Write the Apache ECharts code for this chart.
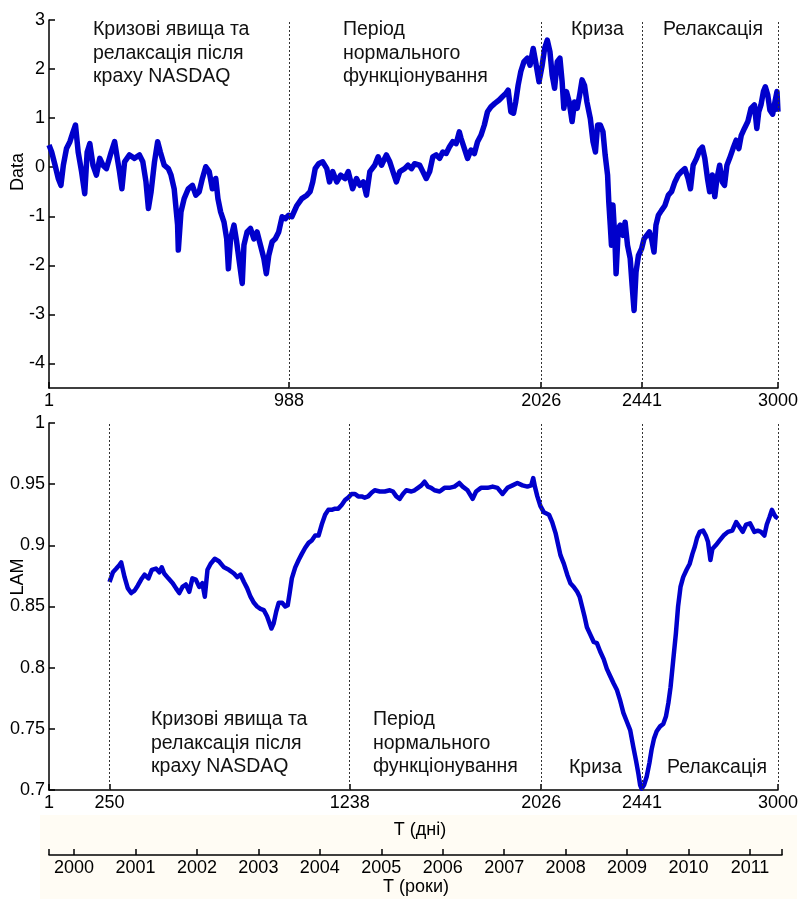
<!DOCTYPE html>
<html>
<head>
<meta charset="utf-8">
<script src="https://cdn.jsdelivr.net/npm/echarts@6/dist/echarts.min.js"></script>
<style>
html,body{margin:0;padding:0;background:#fff;}
#chart{width:801px;height:899px;}
</style>
</head>
<body>
<div id="chart"></div>
<script>
// ---- Data ----
const topDays = [1,12,26,39,50,60,73,87,100,110,121,135,148,158,169,182,196,210,223,237,257,271,282,291,301,312,332,353,373,387,400,410,421,435,448,459,475,492,503,516,530,533,544,557,574,591,605,619,632,646,660,673,687,696,707,721,732,739,748,762,773,782,796,803,816,830,844,857,871,885,895,905,919,932,946,960,973,987,1000,1021,1041,1062,1075,1086,1096,1110,1127,1144,1155,1168,1185,1201,1219,1232,1250,1266,1280,1294,1307,1321,1341,1355,1369,1389,1403,1416,1430,1444,1464,
1478,1492,1505,1526,1539,1553,1567,1580,1594,1608,1621,1635,1648,1662,1676,1689,1696,1710,1723,1737,1751,1764,1778,1792,1805,1819,1835,1853,1867,1880,1890,1901,1912,1921,1931,1942,1955,1969,1980,1993,2003,2017,2030,2040,2051,2062,2071,2081,2092,2103,2112,2119,2130,2141,2153,2163,2174,2184,2194,2204,2214,2228,2239,2249,2258,2269,2280,2289,2299,2304,2310,2315,2321,2329,2334,2343,2351,2362,2371,2381,2392,2400,2408,2416,2426,2439,2449,2460,2471,2480,2490,2498,2508,2521,2535,2549,2562,2576,2590,2603,2617,2630,2640,2651,2665,2678,2689,2699,2710,2719,2730,2740,2749,2760,2771,2780,2790,2801,2815,2828,2839,2849,2862,2876,2889,2903,2913,2921,2930,2940,2948,2958,2967,2978,2989,2996,3000];
const topValues = [0.45,0.31,0.04,-0.23,-0.37,0.04,0.38,0.52,0.72,0.86,0.31,-0.09,-0.54,0.31,0.48,0.04,-0.16,0.18,0.04,-0.03,0.31,0.52,0.18,-0.09,-0.44,0.11,0.25,0.18,0.25,0.11,-0.30,-0.84,-0.50,0.11,0.52,0.31,0.04,-0.03,-0.16,-0.44,-1.18,-1.69,-0.91,-0.64,-0.44,-0.37,-0.57,-0.50,-0.23,0.01,-0.09,-0.44,-0.23,-0.64,-0.91,-1.12,-1.46,-2.07,-1.46,-1.18,-1.52,-1.86,-2.37,-1.59,-1.32,-1.25,-1.46,-1.32,-1.59,-1.86,-2.17,-1.80,-1.52,-1.46,-1.32,-1.01,-1.05,-0.98,-1.01,-0.78,-0.64,-0.57,-0.50,-0.30,-0.03,0.07,0.11,-0.03,-0.30,-0.09,-0.30,-0.16,-0.23,-0.09,-0.44,-0.23,-0.37,-0.30,-0.57,-0.09,0.04,0.21,0.04,0.25,0.11,-0.09,-0.30,-0.09,-0.03,
0.04,-0.03,0.07,0.04,-0.09,-0.23,-0.09,0.21,0.25,0.18,0.31,0.28,0.41,0.52,0.48,0.72,0.59,0.38,0.18,0.35,0.28,0.52,0.65,0.86,1.13,1.23,1.30,1.37,1.44,1.50,1.57,1.13,1.10,1.33,1.67,1.95,2.15,2.22,2.08,2.42,2.15,1.74,2.08,2.42,2.59,2.35,1.88,1.61,2.15,2.22,1.74,1.20,1.54,1.33,0.93,1.33,1.20,1.47,1.78,1.67,1.33,0.99,0.52,0.31,0.86,0.86,0.72,0.25,-0.16,-0.71,-1.18,-1.59,-0.77,-1.46,-2.17,-1.25,-1.18,-1.39,-1.12,-1.59,-1.86,-2.41,-2.92,-2.14,-1.80,-1.66,-1.46,-1.39,-1.32,-1.46,-1.73,-1.18,-0.98,-0.88,-0.78,-0.57,-0.50,-0.30,-0.16,-0.09,-0.03,-0.23,-0.44,0.04,0.18,0.35,0.41,0.18,-0.23,-0.50,-0.16,-0.60,-0.23,0.04,-0.30,-0.37,0.04,0.18,0.38,0.55,0.38,0.65,0.79,0.93,1.20,1.27,0.79,1.13,1.27,1.54,1.64,1.47,1.16,1.08,1.37,1.54,1.13];

const lamDays = [250,264,278,291,298,312,325,339,353,366,380,394,410,424,441,455,465,475,492,510,523,537,550,564,578,591,605,619,632,642,653,666,683,700,721,741,762,775,789,803,816,830,844,857,871,885,898,909,916,925,936,946,960,973,983,991,1000,1014,1028,1041,1055,1069,1082,1096,1110,1123,1137,1150,1164,1178,1191,1205,1219,1232,1246,1260,1273,1287,1300,1314,1328,1341,1362,1382,1403,1416,1430,1444,1457,1471,
1492,1505,1519,1533,1546,1560,1573,1587,1608,1628,1648,1669,1689,1703,1723,1744,1758,1778,1805,1826,1846,1867,1887,1908,1928,1949,1969,1985,1993,2000,2010,2023,2037,2058,2071,2085,2094,2105,2119,2133,2146,2160,2174,2184,2194,2204,2214,2228,2242,2255,2269,2283,2296,2310,2324,2337,2351,2364,2378,2392,2405,2416,2426,2433,2439,2449,2460,2471,2480,2490,2501,2515,2528,2539,2549,2558,2569,2580,2589,2599,2610,2624,2637,2648,2658,2667,2678,2692,2703,2712,2722,2730,2744,2760,2776,2794,2812,2828,2842,2855,2869,2885,2903,2917,2930,2944,2954,2965,2975,2985,2992,3000];
const lamValues = [0.870,0.878,0.881,0.884,0.886,0.874,0.865,0.861,0.863,0.867,0.872,0.876,0.873,0.880,0.881,0.878,0.882,0.877,0.873,0.869,0.865,0.861,0.866,0.868,0.862,0.873,0.872,0.866,0.869,0.858,0.880,0.885,0.889,0.887,0.882,0.880,0.877,0.874,0.876,0.870,0.865,0.858,0.853,0.850,0.848,0.847,0.842,0.836,0.832,0.836,0.846,0.853,0.853,0.850,0.851,0.861,0.873,0.882,0.888,0.893,0.898,0.902,0.904,0.908,0.908,0.917,0.925,0.929,0.929,0.930,0.930,0.933,0.937,0.939,0.942,0.942,0.940,0.940,0.939,0.940,0.943,0.945,0.944,0.944,0.945,0.944,0.940,0.938,0.942,0.945,
0.944,0.945,0.947,0.949,0.952,0.948,0.947,0.945,0.944,0.947,0.947,0.948,0.951,0.948,0.945,0.938,0.944,0.947,0.947,0.948,0.947,0.942,0.947,0.949,0.951,0.949,0.948,0.949,0.955,0.948,0.940,0.932,0.927,0.925,0.919,0.910,0.902,0.892,0.885,0.876,0.869,0.866,0.862,0.858,0.850,0.842,0.833,0.827,0.821,0.820,0.813,0.807,0.799,0.793,0.787,0.782,0.773,0.763,0.756,0.749,0.735,0.724,0.713,0.704,0.701,0.704,0.711,0.722,0.733,0.742,0.748,0.752,0.754,0.760,0.771,0.784,0.806,0.828,0.850,0.866,0.874,0.880,0.885,0.893,0.899,0.906,0.911,0.912,0.908,0.903,0.888,0.897,0.900,0.904,0.908,0.911,0.912,0.919,0.915,0.911,0.917,0.918,0.911,0.912,0.911,0.908,0.917,0.923,0.929,0.925,0.923,0.922];

const topXTicks = [1,988,2026,2441,3000];
const lamXTicks = [1,250,1238,2026,2441,3000];
const topYTicks = [-4,-3,-2,-1,0,1,2,3];
const lamYTicks = [0.7,0.75,0.8,0.85,0.9,0.95,1];
const topMarks = [988,2026,2441,3000];
const lamMarks = [250,1238,2026,2441,3000];
const years = [2000,2001,2002,2003,2004,2005,2006,2007,2008,2009,2010,2011];
const yearStart = 1999.593, yearEnd = 2011.521;

const textA = 'Кризові явища та\nрелаксація після\nкраху NASDAQ';
const textB = 'Період\nнормального\nфункціонування';
const textC = 'Криза';
const textD = 'Релаксація';

// ---- Chart ----
const F = 'Liberation Sans, Arial, sans-serif';
const BLACK = '#000';
const chart = echarts.init(document.getElementById('chart'), null, {renderer:'canvas'});

function zip(a, b){ return a.map((d, i) => [d, b[i]]); }
function plain(v){ return String(Math.round(v)); }
function xAxisCfg(gi, min, max, ticks, labels){
  return {
    type:'value', gridIndex:gi, min:min, max:max,
    axisLine:{show:true, onZero:false, lineStyle:{color:BLACK, width:1.5}},
    axisTick:{show:true, inside:true, length:6, customValues:ticks, lineStyle:{color:BLACK, width:1.5}},
    axisLabel:{show:true, customValues:labels, color:BLACK, fontSize:18, fontFamily:F, margin:4, formatter:plain},
    splitLine:{show:false}
  };
}
function yAxisCfg(gi, min, max, ticks){
  return {
    type:'value', gridIndex:gi, min:min, max:max,
    axisLine:{show:true, onZero:false, lineStyle:{color:BLACK, width:1.5}},
    axisTick:{show:true, inside:true, length:6, customValues:ticks, lineStyle:{color:BLACK, width:1.5}},
    axisLabel:{show:true, customValues:ticks, color:BLACK, fontSize:18, fontFamily:F, margin:4},
    splitLine:{show:false}
  };
}
function marks(vals){
  return {
    silent:true, symbol:['none','none'], animation:false,
    label:{show:false},
    lineStyle:{type:[2,2], color:'#333', width:1},
    data: vals.map(v => ({xAxis:v}))
  };
}
function txt(left, top, s){
  return {type:'text', left:left, top:top, silent:true,
    style:{text:s, font:'19.5px ' + F, fill:'#111', lineHeight:23.5}};
}
function vtxt(x, y, s){
  return {type:'text', x:x, y:y, rotation:Math.PI/2, silent:true,
    style:{text:s, font:'18px ' + F, fill:BLACK, align:'center', verticalAlign:'middle'}};
}
function htxt(x, y, s){
  return {type:'text', x:x, y:y, silent:true,
    style:{text:s, font:'18px ' + F, fill:BLACK, align:'center', verticalAlign:'middle'}};
}

const option = {
  animation:false,
  backgroundColor:'#fff',
  grid:[
    {left:49, right:19, top:20, height:368},
    {left:49, right:19, top:423, height:367},
    {left:49, right:19, top:800, height:55}
  ],
  xAxis:[
    xAxisCfg(0, 1, 3000, topXTicks, topXTicks),
    xAxisCfg(1, 1, 3000, lamXTicks, lamXTicks),
    xAxisCfg(2, yearStart, yearEnd, [yearStart].concat(years, [yearEnd]), years)
  ],
  yAxis:[
    yAxisCfg(0, -4.5, 3, topYTicks),
    yAxisCfg(1, 0.7, 1, lamYTicks),
    {type:'value', gridIndex:2, min:0, max:1, show:false}
  ],
  series:[
    {type:'line', xAxisIndex:0, yAxisIndex:0, data:zip(topDays, topValues), showSymbol:false,
     lineStyle:{color:'#0000cc', width:5.5, join:'round'}, z:3, markLine:marks(topMarks)},
    {type:'line', xAxisIndex:1, yAxisIndex:1, data:zip(lamDays, lamValues), showSymbol:false,
     lineStyle:{color:'#0000cc', width:4.5, join:'round'}, z:3, markLine:marks(lamMarks)},
    {type:'line', xAxisIndex:2, yAxisIndex:2, data:[], showSymbol:false}
  ],
  graphic:[
    {type:'rect', z:-10, silent:true, shape:{x:40, y:815, width:757, height:84}, style:{fill:'#fffcf4'}},
    txt(93, 18, textA), txt(343, 18, textB), txt(571, 18, textC), txt(663, 18, textD),
    txt(151, 708, textA), txt(373, 708, textB), txt(569, 756, textC), txt(667, 756, textD),
    vtxt(18, 172, 'Data'), vtxt(18, 577, 'LAM'),
    htxt(420, 830, 'T (дні)'), htxt(416, 887, 'T (роки)')
  ]
};
chart.setOption(option);
</script>
</body>
</html>
